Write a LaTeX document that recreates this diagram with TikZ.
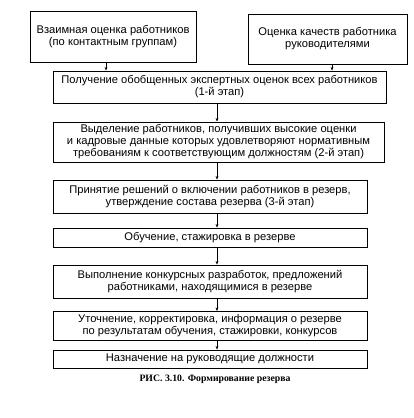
\documentclass[tikz,border=0pt]{standalone}
\usepackage{fontspec}
\setmainfont{Liberation Sans}
\newfontfamily\capfont{Liberation Serif}
\usetikzlibrary{calc,positioning}
\usetikzlibrary{arrows.meta}
\tikzset{>={Stealth[width=1.0mm,length=1.3mm]}}

\begin{document}
\begin{tikzpicture}[x=1bp,y=-1bp]
    \tikzstyle{stage} = [draw, line width=0.75pt, rectangle, inner sep=1pt, align=center, font=\fontsize{11.2}{12}\selectfont]
    \tikzstyle{link} = [->, line width=0.6pt]

    \useasboundingbox (0,0) rectangle (414,418);

    \node[stage, minimum width=166bp, minimum height=51bp] (mutual) at (113,37) {Взаимная оценка работников\\(по контактным группам)};
    \node[stage, minimum width=159bp, minimum height=50bp] (chiefs) at (327.5,39) {Оценка качеств работника\\руководителями};
    \node[stage, minimum width=333bp, minimum height=32bp] (expert) at (219.5,87) {Получение обобщенных экспертных оценок всех работников\\(1-й этап)};
    \node[stage, minimum width=331bp, minimum height=40bp] (select) at (218.5,142) {Выделение работников, получивших высокие оценки\\и кадровые данные которых удовлетворяют нормативным\\требованиям к соответствующим должностям (2-й этап)};
    \node[stage, minimum width=314bp, minimum height=33bp] (decide) at (210,196.5) {Принятие решений о включении работников в резерв,\\утверждение состава резерва (3-й этап)};
    \node[stage, minimum width=314bp, minimum height=19bp] (train) at (210,237.5) {Обучение, стажировка в резерве};
    \node[stage, minimum width=314bp, minimum height=33bp] (contest) at (210,281.5) {Выполнение конкурсных разработок, предложений\\работниками, находящимися в резерве};
    \node[stage, minimum width=314bp, minimum height=29bp] (refine) at (210,326) {Уточнение, корректировка, информация о резерве\\по результатам обучения, стажировки, конкурсов};
    \node[stage, minimum width=314bp, minimum height=18bp] (appoint) at (210,359) {Назначение на руководящие должности};
    \node[font=\capfont\bfseries\fontsize{9.8}{11}\selectfont] (caption) at (215,379) {РИС. 3.10. Формирование резерва};

    \coordinate (axis) at (217,0);
    \draw[link] ([xshift=-7bp]mutual.south) -- ([xshift=-7bp]mutual.south |- expert.north);
    \draw[link] ([xshift=4.5bp]chiefs.south) -- ([xshift=4.5bp]chiefs.south |- expert.north);
    \draw[link] (axis |- expert.south) -- (axis |- select.north);
    \draw[link] (axis |- select.south) -- (axis |- decide.north);
    \draw[link] (axis |- decide.south) -- (axis |- train.north);
    \draw[link] (axis |- train.south) -- (axis |- contest.north);
    \draw[link] (axis |- contest.south) -- (axis |- refine.north);
    \draw[link] (axis |- refine.south) -- (axis |- appoint.north);
\end{tikzpicture}
\end{document}
